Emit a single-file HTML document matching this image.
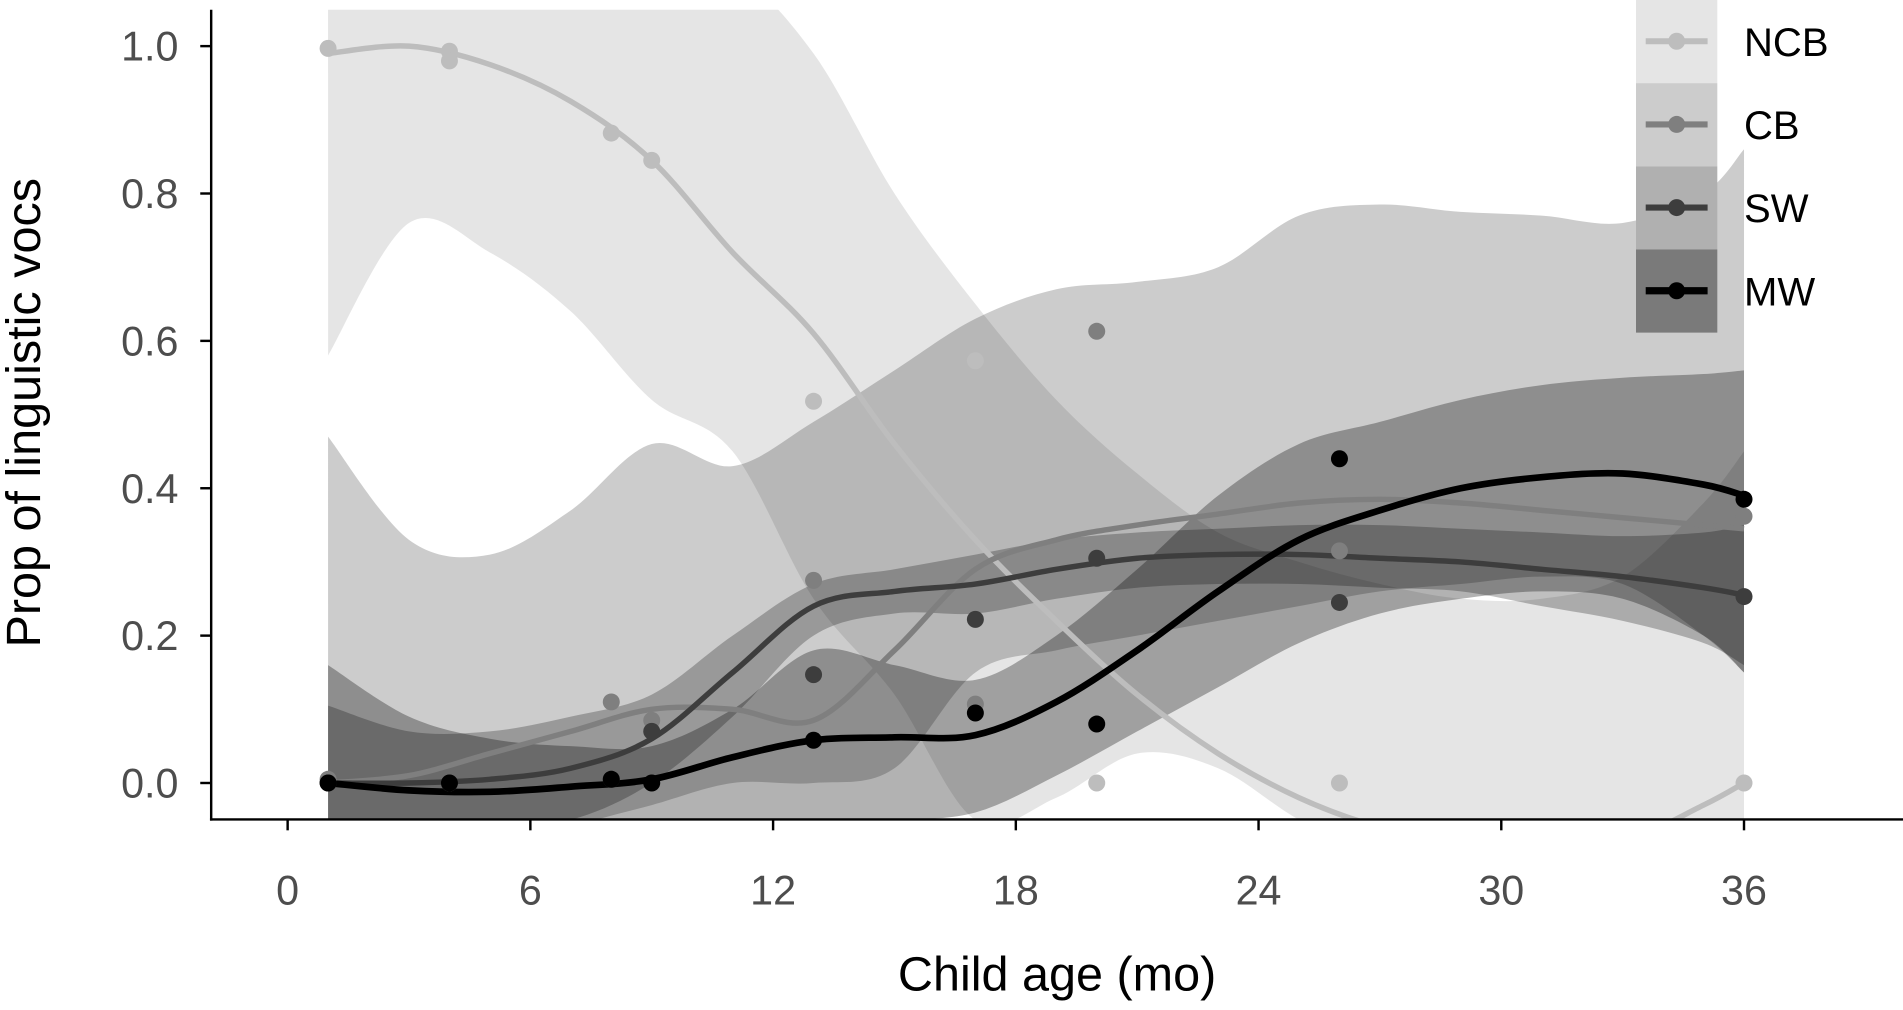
<!DOCTYPE html>
<html><head><meta charset="utf-8"><style>
html,body{margin:0;padding:0;background:#fff;}
svg{display:block;font-family:"Liberation Sans",Arial,sans-serif;}
</style></head><body>
<svg id="chart" width="1903" height="1010" viewBox="0 0 1568 832" preserveAspectRatio="none" xmlns="http://www.w3.org/2000/svg">
<defs><clipPath id="pc"><rect x="174" y="8" width="1394" height="667"/></clipPath></defs>
<g id="ribbons" clip-path="url(#pc)"></g>
<g id="lines" clip-path="url(#pc)"></g>
<g id="points"></g>
<g id="axes"></g>
<g id="legend"></g>
</svg>
<script>
// ---- data ----
const groups = ["NCB","CB","SW","MW"];
const ncbPtsX = [1,4,4,8,9,13,17,20,26,36];
const ncbPtsY = [0.997,0.993,0.98,0.882,0.845,0.518,0.573,0.0,0.0,0.0];
const cbPtsX = [1,4,8,9,13,17,20,26,36];
const cbPtsY = [0.005,0.0,0.11,0.085,0.275,0.107,0.613,0.315,0.362];
const swPtsX = [1,4,8,9,13,17,20,26,36];
const swPtsY = [0.0,0.0,0.005,0.07,0.147,0.222,0.305,0.245,0.253];
const mwPtsX = [1,4,8,9,13,17,20,26,36];
const mwPtsY = [0.0,0.0,0.005,0.0,0.058,0.095,0.08,0.44,0.385];

const fitAges = [1,3,5,7,9,11,13,15,17,19,21,23,25,27,29,31,33,35,36];
const ncbFit = [0.99,1.0,0.975,0.925,0.845,0.72,0.61,0.46,0.33,0.22,0.12,0.04,-0.02,-0.06,-0.08,-0.09,-0.08,-0.03,0.0];
const ncbUp  = [1.1,1.1,1.1,1.1,1.1,1.1,0.99,0.8,0.65,0.52,0.42,0.34,0.3,0.27,0.25,0.25,0.28,0.38,0.45];
const ncbLo  = [0.58,0.76,0.72,0.64,0.52,0.45,0.25,0.12,-0.05,-0.02,0.04,0.02,-0.05,-0.1,-0.13,-0.14,-0.12,-0.08,-0.05];
const cbFit = [0.0,0.01,0.04,0.07,0.1,0.1,0.085,0.18,0.29,0.33,0.35,0.365,0.38,0.385,0.38,0.37,0.36,0.35,0.345];
const cbUp  = [0.47,0.33,0.31,0.37,0.46,0.43,0.49,0.56,0.63,0.67,0.68,0.7,0.77,0.785,0.775,0.77,0.76,0.8,0.86];
const cbLo  = [-0.15,-0.12,-0.1,-0.06,-0.03,0.0,0.0,0.02,0.15,0.18,0.2,0.22,0.24,0.26,0.27,0.28,0.27,0.2,0.15];
const swFit = [0.0,0.0,0.005,0.02,0.06,0.15,0.24,0.26,0.27,0.29,0.305,0.31,0.31,0.305,0.3,0.29,0.28,0.265,0.255];
const swUp  = [0.105,0.07,0.07,0.09,0.12,0.2,0.27,0.29,0.31,0.33,0.34,0.345,0.35,0.35,0.345,0.34,0.335,0.34,0.35];
const swLo  = [-0.1,-0.07,-0.06,-0.05,0.0,0.09,0.2,0.23,0.23,0.25,0.265,0.27,0.27,0.265,0.26,0.24,0.22,0.19,0.16];
const mwFit = [0.0,-0.01,-0.012,-0.005,0.005,0.035,0.058,0.062,0.065,0.11,0.18,0.26,0.33,0.37,0.4,0.415,0.42,0.405,0.39];
const mwUp  = [0.16,0.09,0.06,0.05,0.05,0.1,0.18,0.16,0.14,0.2,0.29,0.39,0.46,0.49,0.52,0.54,0.55,0.555,0.56];
const mwLo  = [-0.16,-0.11,-0.09,-0.07,-0.06,-0.05,-0.05,-0.05,-0.04,0.01,0.07,0.13,0.19,0.23,0.25,0.26,0.25,0.2,0.15];

const xTicks = [0,6,12,18,24,30,36];
const yTicks = [0,0.2,0.4,0.6,0.8,1.0];

// ---- scales ----
const X = a => 237 + a*(1200/36);
const Y = v => 645 - v*607;
const NS = "http://www.w3.org/2000/svg";
function mk(tag, attrs, parent){const e=document.createElementNS(NS,tag);for(const k in attrs)e.setAttribute(k,attrs[k]);parent.appendChild(e);return e;}
function smooth(pts){
  let d="M"+pts[0][0].toFixed(1)+","+pts[0][1].toFixed(1);
  for(let i=0;i<pts.length-1;i++){
    const p0=pts[i-1]||pts[i],p1=pts[i],p2=pts[i+1],p3=pts[i+2]||p2;
    const c1=[p1[0]+(p2[0]-p0[0])/6,p1[1]+(p2[1]-p0[1])/6];
    const c2=[p2[0]-(p3[0]-p1[0])/6,p2[1]-(p3[1]-p1[1])/6];
    d+="C"+c1.join(",")+" "+c2.join(",")+" "+p2.join(",");
  }
  return d;
}
const series = [
 {fit:ncbFit,up:ncbUp,lo:ncbLo,px:ncbPtsX,py:ncbPtsY,fill:0.1,col:"#bdbdbd"},
 {fit:cbFit,up:cbUp,lo:cbLo,px:cbPtsX,py:cbPtsY,fill:0.2,col:"#7f7f7f"},
 {fit:swFit,up:swUp,lo:swLo,px:swPtsX,py:swPtsY,fill:0.25,col:"#3d3d3d"},
 {fit:mwFit,up:mwUp,lo:mwLo,px:mwPtsX,py:mwPtsY,fill:0.3,col:"#000000"}
];
const rib=document.getElementById('ribbons'), ln=document.getElementById('lines'), pt=document.getElementById('points');
series.forEach((s,gi)=>{
  const up=fitAges.map((a,i)=>[X(a),Y(s.up[i])]);
  const lo=fitAges.map((a,i)=>[X(a),Y(s.lo[i])]).reverse();
  const d=smooth(up)+"L"+lo[0].join(",")+smooth(lo).slice(1).replace(/^[^C]*/,"")+"Z";
  const r=mk('path',{d:d,fill:"#000","fill-opacity":s.fill},rib);
  
  
});
series.forEach((s,gi)=>{
  s.px.forEach((a,i)=>{
    const c=mk('circle',{cx:X(a),cy:Y(s.py[i]),r:7,fill:s.col},pt);
    
    
  });
});
series.forEach((s,gi)=>{
  const l=mk('path',{d:smooth(fitAges.map((a,i)=>[X(a),Y(s.fit[i])])),fill:"none",stroke:s.col,"stroke-width":gi==3?5.5:4.5},ln);
  
  
});
// axes
const ax=document.getElementById('axes');
mk('line',{x1:174,y1:8,x2:174,y2:676,stroke:"#000","stroke-width":2},ax);
mk('line',{x1:173,y1:675,x2:1568,y2:675,stroke:"#000","stroke-width":2},ax);
xTicks.forEach(t=>{
  mk('line',{x1:X(t),y1:675,x2:X(t),y2:684,stroke:"#000","stroke-width":2},ax);
  const tx=mk('text',{x:X(t),y:745,"font-size":34,fill:"#4d4d4d","text-anchor":"middle"},ax);
  tx.textContent=t;
  
  
});
yTicks.forEach(t=>{
  mk('line',{x1:165,y1:Y(t),x2:174,y2:Y(t),stroke:"#000","stroke-width":2},ax);
  const tx=mk('text',{x:147,y:Y(t)+12,"font-size":34,fill:"#4d4d4d","text-anchor":"end"},ax);
  tx.textContent=t.toFixed(1);
  
  
});
const xt=mk('text',{x:871,y:816,"font-size":40,fill:"#000","text-anchor":"middle"},ax);
xt.textContent="Child age (mo)";


const yt=mk('text',{x:0,y:0,"font-size":40,fill:"#000","text-anchor":"middle",transform:"translate(33,340) rotate(-90)"},ax);
yt.textContent="Prop of linguistic vocs";


// legend
const lg=document.getElementById('legend');
const keyBg=["#e5e5e5","#cccccc","#b0b0b0","#7a7a7a"];
groups.forEach((g,i)=>{
  const y0=i*68.5;
  const grp=mk('g',{},lg);
  
  
  mk('rect',{x:1348,y:y0,width:67,height:68.5,fill:keyBg[i]},grp);
  mk('line',{x1:1356,y1:y0+34,x2:1407,y2:y0+34,stroke:series[i].col,"stroke-width":i==3?6:5},grp);
  mk('circle',{cx:1381.5,cy:y0+34,r:7,fill:series[i].col},grp);
  const t=mk('text',{x:1437,y:y0+46,"font-size":33,fill:"#000"},grp);
  t.textContent=g;
});
</script>
</body></html>
